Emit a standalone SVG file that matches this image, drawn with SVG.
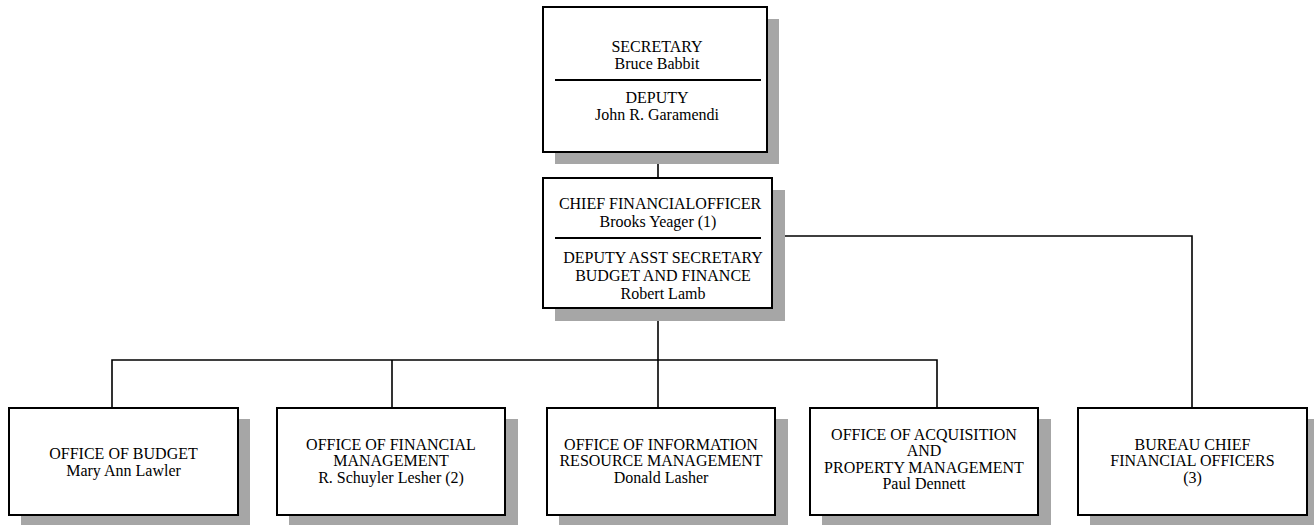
<svg xmlns="http://www.w3.org/2000/svg" width="1314" height="525" viewBox="0 0 1314 525">
<style>
.sh{fill:#a6a6a6;stroke:none}
.bx{fill:#fff;stroke:#000;stroke-width:2}
.dv{stroke:#000;stroke-width:2}
.cn{fill:none;stroke:#000;stroke-width:1.6}
text{font-family:"Liberation Serif","Times New Roman",serif;font-size:16px;fill:#000;text-anchor:middle}
</style>
<rect width="1314" height="525" fill="#fff"/>
<g id="connectors">
<path class="cn" d="M658 152V178"/>
<path class="cn" d="M658 308V360"/>
<path class="cn" d="M112 408V360H937V408"/>
<path class="cn" d="M392 360V408"/>
<path class="cn" d="M658 360V408"/>
<path class="cn" d="M772 236H1192V408"/>
</g>
<g id="secretary">
<rect class="sh" x="555" y="19" width="224" height="145"/>
<rect class="bx" x="543" y="7" width="224" height="145"/>
<text x="657" y="51.5">SECRETARY</text>
<text x="657" y="68.5">Bruce Babbit</text>
<line class="dv" x1="555" y1="80" x2="761" y2="80"/>
<text x="657" y="102.5">DEPUTY</text>
<text x="657" y="120">John R. Garamendi</text>
</g>
<g id="cfo">
<rect class="sh" x="555" y="190" width="230" height="131"/>
<rect class="bx" x="543" y="178" width="229" height="130"/>
<text x="660" y="208.5">CHIEF FINANCIALOFFICER</text>
<text x="658" y="227">Brooks Yeager (1)</text>
<line class="dv" x1="555" y1="238" x2="761" y2="238"/>
<text x="663" y="262.5">DEPUTY ASST SECRETARY</text>
<text x="663" y="280.5">BUDGET AND FINANCE</text>
<text x="663" y="299">Robert Lamb</text>
</g>
<g id="budget">
<rect class="sh" x="21" y="419" width="229" height="106"/>
<rect class="bx" x="9" y="408" width="229" height="107"/>
<text x="123.5" y="459">OFFICE OF BUDGET</text>
<text x="123.5" y="476">Mary Ann Lawler</text>
</g>
<g id="financial">
<rect class="sh" x="289" y="419" width="229" height="106"/>
<rect class="bx" x="277" y="408" width="228" height="107"/>
<text x="391" y="449.5">OFFICE OF FINANCIAL</text>
<text x="391" y="466">MANAGEMENT</text>
<text x="391" y="482.5">R. Schuyler Lesher (2)</text>
</g>
<g id="information">
<rect class="sh" x="559" y="419" width="229" height="106"/>
<rect class="bx" x="547" y="408" width="228" height="107"/>
<text x="661" y="449.5">OFFICE OF INFORMATION</text>
<text x="661" y="466">RESOURCE MANAGEMENT</text>
<text x="661" y="482.5">Donald Lasher</text>
</g>
<g id="acquisition">
<rect class="sh" x="822" y="419" width="229" height="106"/>
<rect class="bx" x="810" y="408" width="228" height="107"/>
<text x="924" y="439.5">OFFICE OF ACQUISITION</text>
<text x="924" y="456">AND</text>
<text x="924" y="472.5">PROPERTY MANAGEMENT</text>
<text x="924" y="489">Paul Dennett</text>
</g>
<g id="bureau">
<rect class="sh" x="1090" y="419" width="224" height="106"/>
<rect class="bx" x="1078" y="408" width="229" height="107"/>
<text x="1192.5" y="449.5">BUREAU CHIEF</text>
<text x="1192.5" y="466">FINANCIAL OFFICERS</text>
<text x="1192.5" y="482.5">(3)</text>
</g>
</svg>
